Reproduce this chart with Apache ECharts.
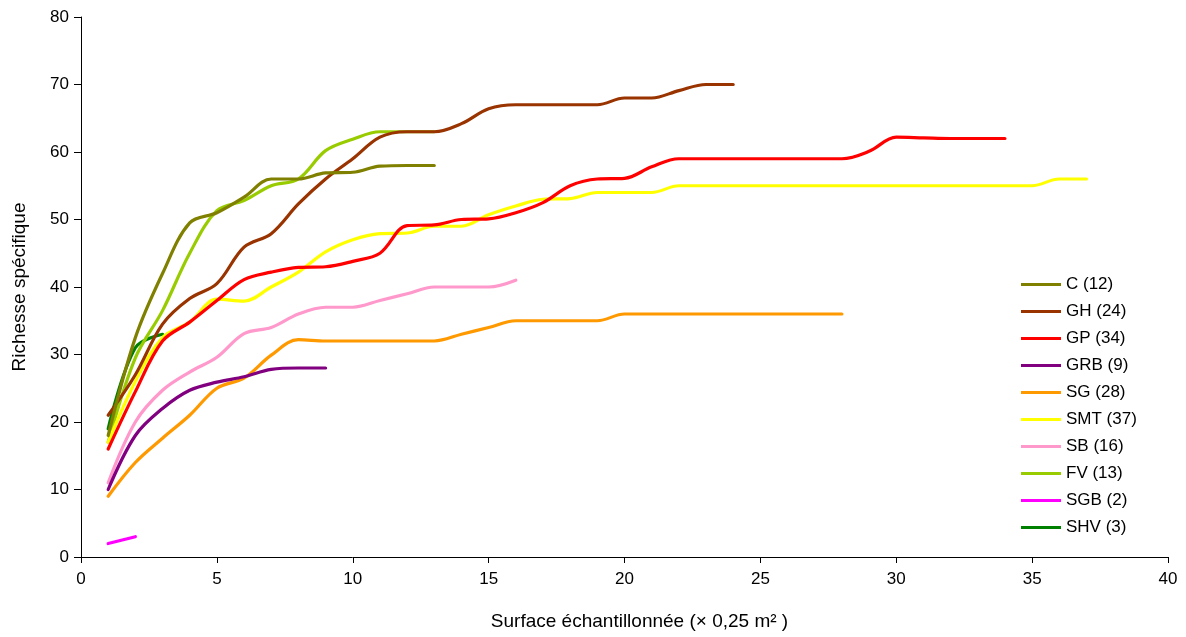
<!DOCTYPE html>
<html>
<head>
<meta charset="utf-8">
<script src="https://cdn.jsdelivr.net/npm/echarts@6/dist/echarts.min.js"></script>
<style>html,body{margin:0;padding:0;background:#fff}#chart{width:1186px;height:637px}</style>
</head>
<body>
<div id="chart"></div>
<script>
const seriesNames = ['C (12)','GH (24)','GP (34)','GRB (9)','SG (28)','SMT (37)','SB (16)','FV (13)','SGB (2)','SHV (3)'];
const seriesColors = ['#808000','#993300','#FF0000','#800080','#FF9900','#FFFF00','#FF99CC','#99CC00','#FF00FF','#008000'];

const C   = [18, 32.5, 42, 49.5, 51, 53.3, 56, 56, 56.9, 57, 57.9, 58, 58];
const GH  = [21, 27, 34.5, 38.3, 40.5, 45.9, 47.9, 52.3, 56, 59, 62.2, 63, 63, 64.2, 66.4, 67, 67, 67, 67, 68, 68, 69.1, 70, 70];
const GP  = [16, 24.5, 32, 34.8, 38, 41.1, 42.2, 42.9, 43, 43.8, 45, 49.1, 49.2, 50, 50.1, 51, 52.5, 55, 56, 56.1, 57.8, 59, 59, 59, 59, 59, 59, 59, 60.1, 62.2, 62.1, 62, 62, 62];
const GRB = [10, 18, 22, 24.7, 25.9, 26.7, 27.8, 28, 28];
const SG  = [9, 14, 17.6, 21, 25, 26.5, 29.9, 32.2, 32, 32, 32, 32, 32, 33, 34, 35, 35, 35, 35, 36, 36, 36, 36, 36, 36, 36, 36, 36];
const SMT = [17, 26, 32.5, 34.8, 38.2, 37.9, 40, 42.2, 45.2, 47, 47.9, 48, 49, 49, 50.7, 52, 53, 53.1, 54, 54, 54, 55, 55, 55, 55, 55, 55, 55, 55, 55, 55, 55, 55, 55, 55, 56, 56];
const SB  = [11, 20, 24.7, 27.4, 29.6, 33.1, 34, 36, 37, 37, 38, 39, 40, 40, 40, 41];
const FV  = [17, 29.5, 36.5, 45, 51.3, 52.8, 55, 56, 60.2, 61.9, 63, 63, 63];
const SGB = [2, 3];
const SHV = [19, 31, 33];

const allData = [C, GH, GP, GRB, SG, SMT, SB, FV, SGB, SHV];

const font = 'Liberation Sans, Arial, sans-serif';
const chart = echarts.init(document.getElementById('chart'));
chart.setOption({
  animation: false,
  backgroundColor: '#fff',
  grid: {left: 81, right: 18, top: 17, bottom: 80},
  legend: {
    orient: 'vertical',
    left: 1016,
    top: 271,
    itemWidth: 40,
    itemHeight: 14,
    itemGap: 10,
    icon: 'path://M0,5.5 L40,5.5 L40,8.5 L0,8.5 Z',
    textStyle: {fontFamily: font, fontSize: 17, color: '#000'},
    data: seriesNames
  },
  xAxis: {
    type: 'value', min: 0, max: 40, interval: 5,
    name: 'Surface échantillonnée (× 0,25 m² )',
    nameLocation: 'middle', nameGap: 55,
    nameTextStyle: {fontFamily: font, fontSize: 19, color: '#000', padding: [0, 0, 0, 30]},
    axisLine: {lineStyle: {color: '#000', width: 1}},
    axisTick: {show: true, length: 6, lineStyle: {color: '#000'}},
    axisLabel: {fontFamily: font, fontSize: 17, color: '#000', margin: 14},
    splitLine: {show: false}
  },
  yAxis: {
    type: 'value', min: 0, max: 80, interval: 10,
    name: 'Richesse spécifique',
    nameLocation: 'middle', nameGap: 52, nameRotate: 90,
    nameTextStyle: {fontFamily: font, fontSize: 19, color: '#000'},
    axisLine: {show: true, lineStyle: {color: '#000', width: 1}},
    axisTick: {show: true, length: 7, lineStyle: {color: '#000'}},
    axisLabel: {fontFamily: font, fontSize: 17, color: '#000', margin: 12},
    splitLine: {show: false}
  },
  series: allData.map((d, i) => ({
    name: seriesNames[i],
    type: 'line',
    data: d.map((v, j) => [j + 1, v]),
    smooth: 0.35,
    showSymbol: false,
    symbol: 'none',
    color: seriesColors[i],
    lineStyle: {width: 3.2, color: seriesColors[i], cap: 'round'},
    z: 10 - i
  }))
});
</script>
</body>
</html>
